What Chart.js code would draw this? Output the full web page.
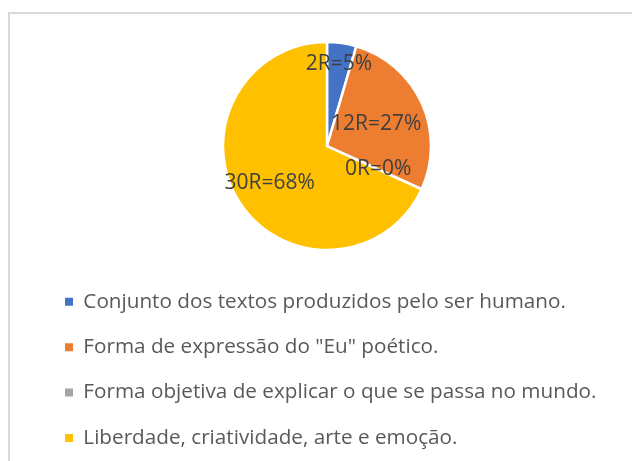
<!DOCTYPE html>
<html lang="pt">
<head>
<meta charset="utf-8">
<title>Pizza</title>
<script src="https://cdn.jsdelivr.net/npm/chart.js@4/dist/chart.umd.min.js"></script>
<style>
  html, body { margin: 0; padding: 0; background: #fff; }
  .wrap { position: relative; width: 632px; height: 461px; overflow: hidden; }
  .frame { position: absolute; left: 8px; top: 12px; width: 700px; height: 500px;
           border-left: 2px solid #d9d9d9; border-top: 2px solid #d9d9d9; }
  #pie { position: absolute; left: 0; top: 0; }
</style>
</head>
<body>
<div class="wrap">
  <div class="frame"></div>
  <canvas id="pie" width="632" height="461"></canvas>
</div>
<script>
/* ---------- dados ---------- */
const categorias = [
  "Conjunto dos textos produzidos pelo ser humano.",
  "Forma de expressão do \"Eu\" poético.",
  "Forma objetiva de explicar o que se passa no mundo.",
  "Liberdade, criatividade, arte e emoção.",
];
const respostas = [2, 12, 0, 30];
const cores = ["#4472c4", "#ed7d31", "#a5a5a5", "#ffc000"];

// distância do rótulo ao centro (fração do raio), como o Excel colocou
const rotuloPos = [0.80, 0.52, 0.54, 0.655];

const total = respostas.reduce((a, b) => a + b, 0);
const rotulo = (i) => respostas[i] + "R=" + Math.round(respostas[i] / total * 100) + "%";

/* ---------- rótulos nas fatias ---------- */
const rotulos = {
  id: "rotulos",
  afterDatasetsDraw(ch) {
    const g = ch.ctx;
    const arcs = ch.getDatasetMeta(0).data;
    g.save();
    g.fillStyle = "#404040";
    g.font = "21px 'Open Sans'";
    g.textAlign = "center";
    g.textBaseline = "middle";
    arcs.forEach((a, i) => {
      const p = a.getProps(["x", "y", "startAngle", "endAngle", "outerRadius"], true);
      const mid = (p.startAngle + p.endAngle) / 2;
      const r = p.outerRadius * rotuloPos[i];
      g.fillText(rotulo(i), p.x + Math.cos(mid) * r, p.y + Math.sin(mid) * r);
    });
    g.restore();
  },
};

new Chart(document.getElementById("pie"), {
  type: "pie",
  data: {
    labels: categorias,
    datasets: [{
      data: respostas,
      backgroundColor: cores,
      borderColor: "#ffffff",
      borderWidth: 2.5,
      radius: 104,
    }],
  },
  options: {
    responsive: false,
    animation: false,
    layout: { padding: { left: 40.3, right: 18.3, top: 25.4, bottom: 2.7 } },
    plugins: {
      tooltip: { enabled: false },
      legend: {
        position: "bottom",
        align: "start",
        labels: {
          boxWidth: 8,
          boxHeight: 8,
          padding: 24.7,
          color: "#595959",
          font: { family: "'Open Sans'", size: 20.7 },
          generateLabels(ch) {
            const base = Chart.overrides.pie.plugins.legend.labels.generateLabels(ch);
            return base.map((it) => Object.assign(it, { lineWidth: 0, strokeStyle: it.fillStyle }));
          },
        },
      },
    },
  },
  plugins: [rotulos],
});
</script>
</body>
</html>
